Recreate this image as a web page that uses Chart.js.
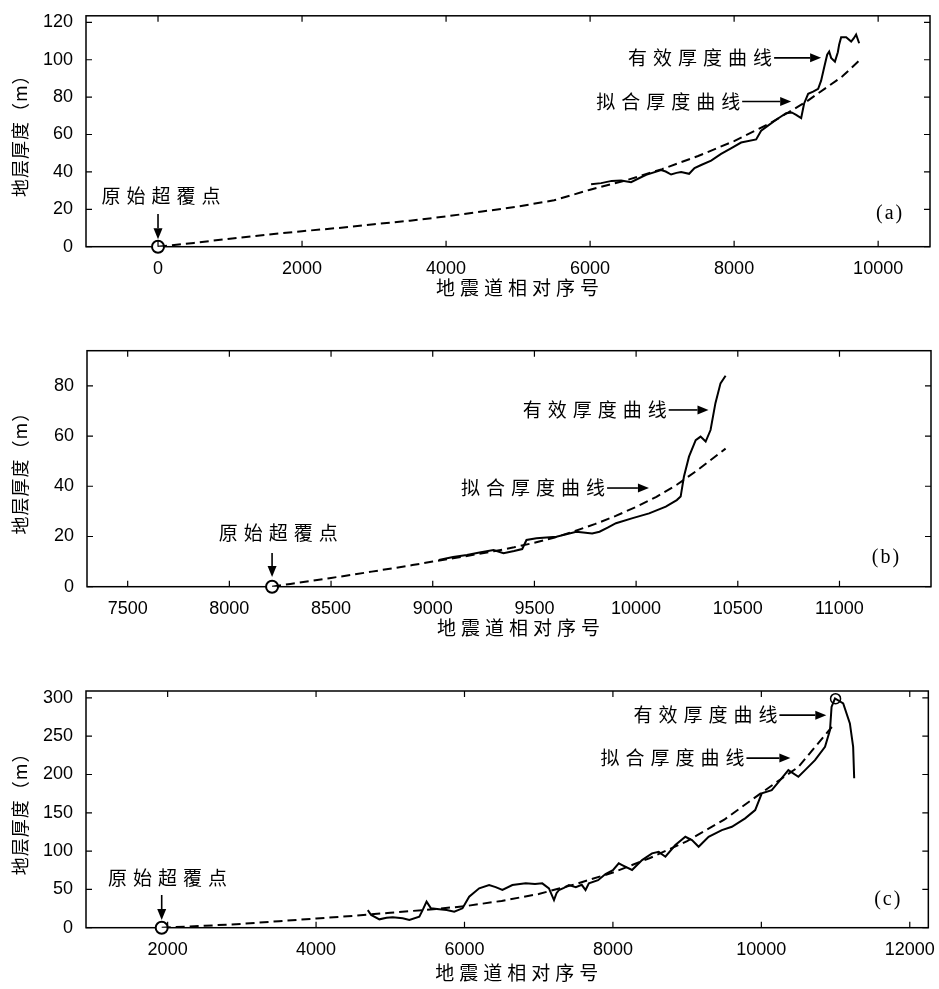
<!DOCTYPE html>
<html>
<head>
<meta charset="utf-8">
<script src="https://cdn.jsdelivr.net/npm/chart.js@4.4.1/dist/chart.umd.min.js"></script>
<style>
  body { margin: 0; background: #fff; }
  canvas { position: absolute; left: 0; }
</style>
</head>
<body>
<canvas id="chartA" width="939" height="310" style="top:0px"></canvas>
<canvas id="chartB" width="939" height="320" style="top:330px"></canvas>
<canvas id="chartC" width="939" height="319" style="top:670px"></canvas>
<script>
// 文字
var yTitle = '地层厚度（m）';
var xTitle = '地震道相对序号';
var originLabel = '原始超覆点';
var effLabel = '有效厚度曲线';
var fitLabel = '拟合厚度曲线';

// (a) 数据
var effAX = [6014, 6153, 6300, 6431, 6569, 6700, 6778, 6986, 7050, 7125, 7200, 7264, 7375, 7450, 7542, 7681, 7819, 7950, 8097, 8306, 8375, 8480, 8583, 8722, 8800, 8861, 8931, 8972, 9028, 9097, 9167, 9208, 9250, 9292, 9320, 9347, 9400, 9440, 9458, 9486, 9556, 9625, 9660, 9694, 9736];
var effAY = [33.4, 34, 35.2, 35.4, 34.5, 37, 38.4, 41, 40.2, 38.6, 39.5, 40, 39, 42, 43.7, 46, 49.6, 52.5, 55.7, 57.4, 62, 65, 67.9, 71.4, 71.8, 70.5, 68.8, 76.6, 81.8, 82.9, 84.4, 88.8, 95.8, 102.7, 104.4, 101, 99, 104, 108, 112, 112, 109.7, 111.4, 113.5, 108.8];
var fitAX = [0, 500, 1000, 1500, 2000, 2500, 3000, 3500, 4000, 4500, 5000, 5500, 6000, 6500, 7000, 7500, 8000, 8500, 9000, 9500, 9750];
var fitAY = [0, 2, 4.3, 6.4, 8.3, 10, 12, 13.9, 16.2, 18.8, 21.5, 24.8, 30.5, 35.5, 41.5, 48.5, 56.5, 66, 77.5, 91, 100];
var originAX = [0];
var originAY = [0];
var xTicksA = [0, 2000, 4000, 6000, 8000, 10000];
var yTicksA = [0, 20, 40, 60, 80, 100, 120];

// (b) 数据
var effBX = [9030, 9100, 9168, 9230, 9299, 9348, 9400, 9440, 9461, 9510, 9608, 9706, 9740, 9784, 9820, 9860, 9901, 9983, 10064, 10146, 10200, 10219, 10235, 10260, 10293, 10317, 10342, 10366, 10390, 10415, 10440];
var effBY = [10.6, 11.8, 12.6, 13.6, 14.6, 13.3, 14.2, 15, 18.6, 19.3, 19.9, 21.9, 21.6, 21.2, 21.9, 23.5, 25.3, 27.3, 29.2, 31.9, 34.5, 35.9, 43.8, 51.8, 58.4, 59.8, 57.8, 62.4, 73.1, 81, 84];
var fitBX = [8210, 8300, 8400, 8500, 8600, 8700, 8800, 8900, 9000, 9100, 9200, 9300, 9400, 9500, 9600, 9700, 9800, 9900, 10000, 10100, 10200, 10300, 10440];
var fitBY = [0, 1.1, 2.3, 3.5, 4.7, 6, 7.3, 8.6, 10, 11.3, 12.7, 14.1, 15.7, 17.5, 19.6, 22.2, 25, 28.2, 31.8, 35.8, 40.6, 46.3, 55];
var originBX = [8210];
var originBY = [0];
var xTicksB = [7500, 8000, 8500, 9000, 9500, 10000, 10500, 11000];
var yTicksB = [0, 20, 40, 60, 80];

// (c) 数据
var effCX = [4697, 4742, 4853, 4950, 5032, 5167, 5257, 5391, 5436, 5489, 5548, 5660, 5760, 5862, 5973, 6063, 6198, 6332, 6420, 6511, 6645, 6825, 6950, 7048, 7138, 7206, 7240, 7273, 7340, 7407, 7500, 7580, 7631, 7676, 7800, 7900, 8000, 8079, 8124, 8258, 8393, 8527, 8617, 8707, 8841, 8976, 9065, 9155, 9289, 9468, 9603, 9782, 9917, 10006, 10140, 10253, 10364, 10499, 10589, 10723, 10858, 10925, 10946, 10992, 11103, 11193, 11237, 11251];
var effCY = [23, 16.6, 10.9, 13, 13.5, 12.2, 10, 14.4, 23, 34, 25.3, 24, 23, 20.9, 25.3, 40.4, 51.4, 55.7, 53, 49.2, 55.7, 57.9, 57, 57.9, 51.4, 36.1, 45, 49.2, 52, 55.7, 53, 56, 49.2, 57.9, 62, 70, 75, 84, 81.8, 75.3, 88.3, 97, 99, 92.6, 107.9, 118.7, 114.4, 105.7, 118.7, 127.4, 131.8, 142.7, 153.5, 175.3, 179.6, 192.7, 205.7, 197, 205.7, 218.8, 236.1, 257.9, 288.3, 299.2, 292.7, 266.6, 236, 195];
var fitCX = [1920, 2500, 3000, 3500, 4000, 4500, 5000, 5500, 6000, 6500, 7000, 7500, 8000, 8500, 9000, 9500, 10000, 10500, 10950];
var fitCY = [0, 2.5, 5, 8.5, 12, 15.5, 19.5, 23.5, 28, 35, 44, 57, 72, 91, 113, 141, 176, 210, 262];
var originCX = [1920];
var originCY = [0];
var peakCX = [11000];
var peakCY = [299];
var xTicksC = [2000, 4000, 6000, 8000, 10000, 12000];
var yTicksC = [0, 50, 100, 150, 200, 250, 300];

var cjk = '"Noto Sans CJK SC", sans-serif';

function pts(xs, ys) {
  return xs.map(function (x, i) { return { x: x, y: ys[i] }; });
}

function arrow(ctx, x1, y1, x2, y2) {
  var ang = Math.atan2(y2 - y1, x2 - x1);
  var hl = 11, hw = 4.5;
  ctx.beginPath();
  ctx.moveTo(x1, y1);
  ctx.lineTo(x2 - hl * Math.cos(ang), y2 - hl * Math.sin(ang));
  ctx.lineWidth = 1.6;
  ctx.stroke();
  ctx.beginPath();
  ctx.moveTo(x2, y2);
  ctx.lineTo(x2 - hl * Math.cos(ang) - hw * Math.sin(ang), y2 - hl * Math.sin(ang) + hw * Math.cos(ang));
  ctx.lineTo(x2 - hl * Math.cos(ang) + hw * Math.sin(ang), y2 - hl * Math.sin(ang) - hw * Math.cos(ang));
  ctx.closePath();
  ctx.fill();
}

// 边框、内向刻度、注释
function makeFrame(note) {
  return {
    id: 'frame',
    beforeDatasetsDraw: function (chart) {
      var ctx = chart.ctx, a = chart.chartArea;
      ctx.save();
      ctx.strokeStyle = '#000';
      ctx.lineWidth = 1.5;
      ctx.strokeRect(a.left, a.top, a.right - a.left, a.bottom - a.top);
      ctx.restore();
    },
    afterDraw: function (chart) {
      var ctx = chart.ctx, a = chart.chartArea;
      var sx = chart.scales.x, sy = chart.scales.y;
      ctx.save();
      ctx.strokeStyle = '#000';
      ctx.fillStyle = '#000';
      ctx.beginPath();
      sx.ticks.forEach(function (t) {
        var p = sx.getPixelForValue(t.value);
        ctx.moveTo(p, a.bottom); ctx.lineTo(p, a.bottom - 6);
        ctx.moveTo(p, a.top); ctx.lineTo(p, a.top + 6);
      });
      sy.ticks.forEach(function (t) {
        var p = sy.getPixelForValue(t.value);
        ctx.moveTo(a.left, p); ctx.lineTo(a.left + 6, p);
        ctx.moveTo(a.right, p); ctx.lineTo(a.right - 6, p);
      });
      ctx.lineWidth = 1.2;
      ctx.stroke();

      function X(v) { return sx.getPixelForValue(v); }
      function Y(v) { return sy.getPixelForValue(v); }

      // 坐标轴标题
      ctx.font = '19px ' + cjk;
      ctx.letterSpacing = '5px';
      ctx.textAlign = 'center';
      ctx.textBaseline = 'middle';
      ctx.fillText(xTitle, (a.left + a.right) / 2 + 12, a.bottom + note.xTitleOff);
      ctx.save();
      ctx.letterSpacing = '1px';
      ctx.font = '18px ' + cjk;
      ctx.translate(20, (a.top + a.bottom) / 2);
      ctx.rotate(-Math.PI / 2);
      ctx.fillText(yTitle, 0, 0);
      ctx.restore();

      // 原始超覆点
      ctx.font = '19px ' + cjk;
      ctx.letterSpacing = '6px';
      ctx.fillText(originLabel, X(note.origin[0]) + 3, Y(note.origin[1]));
      arrow(ctx, X(note.originArrow[0]), Y(note.originArrow[1]), X(note.originArrow[0]), Y(note.originArrow[2]));

      // 曲线说明
      ctx.textAlign = 'right';
      ctx.fillText(effLabel, X(note.eff[0]), Y(note.eff[2]));
      arrow(ctx, X(note.eff[0]) - 4, Y(note.eff[2]), X(note.eff[1]), Y(note.eff[2]));
      ctx.fillText(fitLabel, X(note.fit[0]), Y(note.fit[2]));
      arrow(ctx, X(note.fit[0]) - 4, Y(note.fit[2]), X(note.fit[1]), Y(note.fit[2]));

      // 面板编号
      ctx.letterSpacing = '2px';
      ctx.textAlign = 'center';
      ctx.font = '20px "Liberation Serif", serif';
      ctx.fillText(note.tag, X(note.tagPos[0]), Y(note.tagPos[1]));
      ctx.restore();
    }
  };
}

function plain(v) { return String(v); }

function makeChart(id, opt) {
  var datasets = [
    { data: pts(opt.effX, opt.effY), borderColor: '#000', borderWidth: 2, pointRadius: 0, tension: 0 },
    { data: pts(opt.fitX, opt.fitY), borderColor: '#000', borderWidth: 2, borderDash: [9, 5], pointRadius: 0, tension: 0 },
    { data: pts(opt.oX, opt.oY), showLine: false, clip: false, pointRadius: 6, pointBorderWidth: 2, pointBorderColor: '#000', pointBackgroundColor: '#fff' }
  ];
  if (opt.pX) {
    datasets.push({ data: pts(opt.pX, opt.pY), showLine: false, clip: false, pointRadius: 5, pointBorderWidth: 1.5, pointBorderColor: '#000', pointBackgroundColor: 'rgba(0,0,0,0)' });
  }
  var tickFont = { family: '"Liberation Sans", Arial', size: 18 };
  return new Chart(document.getElementById(id).getContext('2d'), {
    type: 'line',
    data: { datasets: datasets },
    options: {
      responsive: false,
      animation: false,
      devicePixelRatio: 1,
      layout: { padding: opt.pad },
      plugins: { legend: { display: false }, tooltip: { enabled: false } },
      scales: {
        x: {
          type: 'linear', min: opt.xr[0], max: opt.xr[1],
          afterFit: function (s) { s.height = 50; },
          afterBuildTicks: function (s) { s.ticks = opt.xt.map(function (v) { return { value: v }; }); },
          grid: { display: false },
          border: { display: false },
          ticks: { color: '#000', padding: 4, maxRotation: 0, autoSkip: false, font: tickFont, callback: plain }
        },
        y: {
          min: opt.yr[0], max: opt.yr[1],
          afterFit: function (s) { s.width = opt.yw; },
          afterBuildTicks: function (s) { s.ticks = opt.yt.map(function (v) { return { value: v }; }); },
          grid: { display: false },
          border: { display: false },
          ticks: { color: '#000', padding: 5, autoSkip: false, font: tickFont, callback: plain }
        }
      }
    },
    plugins: [makeFrame(opt.note)]
  });
}

makeChart('chartA', {
  effX: effAX, effY: effAY, fitX: fitAX, fitY: fitAY, oX: originAX, oY: originAY,
  xr: [-1000, 10720], yr: [0, 123.5], xt: xTicksA, yt: yTicksA, yw: 86,
  pad: { top: 10, right: 9, bottom: 13.3, left: 0 },
  note: { xTitleOff: 41, origin: [42, 27], originArrow: [0, 17.5, 4], eff: [8611, 9208, 101], fit: [8167, 8792, 77.7], tag: '(a)', tagPos: [10167, 17.6] }
});

makeChart('chartB', {
  effX: effBX, effY: effBY, fitX: fitBX, fitY: fitBY, oX: originBX, oY: originBY,
  xr: [7300, 11450], yr: [0, 94], xt: xTicksB, yt: yTicksB, yw: 87,
  pad: { top: 20.7, right: 5, bottom: 13.3, left: 0 },
  note: { xTitleOff: 41, origin: [8240, 21.4], originArrow: [8210, 13.4, 3.9], eff: [10180, 10356, 70.4], fit: [9877, 10063, 39.3], tag: '(b)', tagPos: [11231, 11.4] }
});

makeChart('chartC', {
  effX: effCX, effY: effCY, fitX: fitCX, fitY: fitCY, oX: originCX, oY: originCY, pX: peakCX, pY: peakCY,
  xr: [900, 12250], yr: [0, 309], xt: xTicksC, yt: yTicksC, yw: 86,
  pad: { top: 21, right: 9, bottom: 11.3, left: 0 },
  note: { xTitleOff: 45, origin: [1997, 64.8], originArrow: [1920, 42.7, 10], eff: [10297, 10875, 277.5], fit: [9853, 10391, 221.4], tag: '(c)', tagPos: [11710, 36] }
});
</script>
</body>
</html>
